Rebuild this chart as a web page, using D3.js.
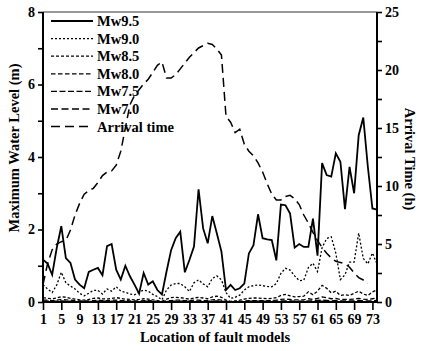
<!DOCTYPE html>
<html><head><meta charset="utf-8">
<script src="https://cdn.jsdelivr.net/npm/d3@7"></script>
<style>
html,body{margin:0;padding:0;background:#fff;}
svg text{font-family:"Liberation Serif","Times New Roman",serif;font-weight:bold;fill:#000;}
</style></head>
<body><svg id="c" width="422" height="351"></svg>
<script>
const locations = d3.range(1, 75);
const mw95 = [1.17,1.06,0.75,1.49,2.09,1.21,1.08,0.62,0.48,0.38,0.83,0.89,0.94,0.74,1.54,1.6,0.89,0.62,1.0,0.71,0.48,0.23,0.8,0.48,0.57,0.33,0.21,0.84,1.43,1.76,1.94,0.82,1.16,1.53,3.11,2.03,1.62,2.37,1.89,1.39,0.33,0.47,0.33,0.38,0.51,1.34,1.57,2.42,1.76,1.73,1.71,1.15,2.69,2.67,2.44,1.5,1.6,1.52,1.52,2.3,1.28,3.83,3.5,3.46,4.1,3.87,2.56,3.73,3.0,4.6,5.09,3.73,2.58,2.55];
const mw90 = [0.48,0.36,0.26,0.47,0.82,0.53,0.44,0.36,0.24,0.17,0.24,0.32,0.32,0.22,0.36,0.3,0.42,0.3,0.27,0.22,0.2,0.27,0.33,0.3,0.21,0.15,0.06,0.33,0.47,0.51,0.51,0.42,0.29,0.53,0.61,0.5,0.42,0.65,0.72,0.61,0.26,0.1,0.13,0.19,0.33,0.42,0.45,0.47,0.45,0.43,0.42,0.51,0.79,0.93,0.88,0.72,0.59,0.6,0.95,1.07,0.84,1.5,1.75,1.8,1.35,0.62,0.75,1.1,1.1,1.9,1.2,1.05,1.35,1.05];
const mw85 = [0.12,0.1,0.09,0.11,0.15,0.13,0.1,0.08,0.06,0.05,0.07,0.1,0.11,0.09,0.08,0.1,0.12,0.1,0.08,0.07,0.06,0.07,0.09,0.08,0.06,0.04,0.02,0.08,0.12,0.13,0.12,0.1,0.08,0.11,0.13,0.11,0.09,0.14,0.16,0.13,0.05,0.02,0.03,0.05,0.08,0.1,0.11,0.11,0.1,0.09,0.1,0.12,0.18,0.21,0.17,0.14,0.15,0.16,0.28,0.2,0.3,0.46,0.38,0.25,0.3,0.18,0.2,0.18,0.24,0.3,0.22,0.18,0.28,0.33];
const mw80 = [0.05,0.05,0.04,0.05,0.07,0.06,0.05,0.04,0.03,0.03,0.03,0.04,0.05,0.04,0.04,0.05,0.05,0.04,0.04,0.03,0.03,0.03,0.04,0.04,0.03,0.02,0.01,0.03,0.04,0.05,0.05,0.04,0.04,0.05,0.05,0.04,0.04,0.06,0.07,0.05,0.02,0.01,0.01,0.02,0.03,0.04,0.04,0.04,0.04,0.04,0.04,0.05,0.07,0.08,0.07,0.06,0.06,0.06,0.09,0.07,0.1,0.14,0.12,0.09,0.1,0.07,0.07,0.07,0.08,0.1,0.08,0.07,0.09,0.11];
const mw75 = [0.02,0.02,0.02,0.02,0.03,0.02,0.02,0.02,0.01,0.01,0.01,0.02,0.02,0.02,0.02,0.02,0.02,0.02,0.02,0.01,0.01,0.01,0.02,0.02,0.01,0.01,0.0,0.01,0.02,0.02,0.02,0.02,0.02,0.02,0.02,0.02,0.02,0.02,0.03,0.02,0.01,0.0,0.0,0.01,0.01,0.02,0.02,0.02,0.02,0.02,0.02,0.02,0.03,0.03,0.03,0.02,0.02,0.02,0.03,0.03,0.04,0.05,0.04,0.03,0.04,0.03,0.03,0.03,0.03,0.04,0.03,0.03,0.03,0.04];
const mw70 = [0.01,0.01,0.01,0.01,0.01,0.01,0.01,0.01,0.0,0.0,0.0,0.01,0.01,0.01,0.01,0.01,0.01,0.01,0.01,0.0,0.0,0.0,0.01,0.01,0.0,0.0,0.0,0.0,0.01,0.01,0.01,0.01,0.01,0.01,0.01,0.01,0.01,0.01,0.01,0.01,0.0,0.0,0.0,0.0,0.0,0.01,0.01,0.01,0.01,0.01,0.01,0.01,0.01,0.01,0.01,0.01,0.01,0.01,0.01,0.01,0.01,0.02,0.02,0.01,0.01,0.01,0.01,0.01,0.01,0.01,0.01,0.01,0.01,0.01];
const arrival = [1.5,3.3,4.5,5.0,5.2,5.3,6.2,7.5,8.5,9.3,9.6,9.8,10.3,10.9,11.2,11.3,11.8,13.0,15.0,17.0,17.8,18.3,18.8,19.2,19.8,20.4,20.7,19.3,19.3,19.6,20.1,20.6,21.1,21.5,21.9,22.1,22.3,22.2,21.8,21.3,16.0,15.5,14.6,14.9,13.6,13.0,12.6,12.0,11.2,10.2,9.3,8.8,8.8,9.1,9.2,8.9,8.4,7.5,6.8,6.0,5.3,4.7,4.2,3.8,3.5,3.4,3.3,3.0,2.5,2.1,1.9,1.6];
const seriesNames = ["Mw9.5","Mw9.0","Mw8.5","Mw8.0","Mw7.5","Mw7.0","Arrival time"];
const xTicks = d3.range(1, 74, 4);
const yLeftTicks = [0,2,4,6,8];
const yRightTicks = [0,5,10,15,20,25];

const svg = d3.select("#c");
const x = d3.scaleLinear().domain([1,74]).range([43,377]);
const yL = d3.scaleLinear().domain([0,8]).range([302,12]);
const yR = d3.scaleLinear().domain([0,25]).range([302,12]);

const styles = [
  {w:1.8, dash:null},
  {w:1.3, dash:"2,2"},
  {w:1.3, dash:"3,2"},
  {w:1.3, dash:"4.5,2.5"},
  {w:1.4, dash:"6,2.5"},
  {w:1.4, dash:"7,3.5"},
  {w:1.5, dash:"9,5"}
];
const data = [mw95,mw90,mw85,mw80,mw75,mw70,arrival];

// frame top line
svg.append("line").attr("x1",43).attr("x2",377).attr("y1",12).attr("y2",12)
  .attr("stroke","#333").attr("stroke-width",1);

data.forEach((vals,k)=>{
  const yS = k===6 ? yR : yL;
  const line = d3.line().x((d,i)=>x(locations[i])).y(d=>yS(d));
  svg.append("path").datum(vals).attr("d",line).attr("fill","none")
    .attr("stroke","#000").attr("stroke-width",styles[k].w)
    .attr("stroke-dasharray",styles[k].dash);
});

// axes
const xAxis = d3.axisBottom(x).tickValues(xTicks).tickSize(8).tickPadding(4).tickFormat(d3.format("d"));
const gx = svg.append("g").attr("transform","translate(0,302)").call(xAxis);
const yAxisL = d3.axisLeft(yL).tickValues(d3.range(0,9,1)).tickSize(5).tickPadding(3)
  .tickFormat(d=> yLeftTicks.includes(d) ? d : "");
const gyl = svg.append("g").attr("transform","translate(43,0)").call(yAxisL);
const yAxisR = d3.axisRight(yR).tickValues(d3.range(0,26,2.5)).tickSize(5).tickPadding(3)
  .tickFormat(d=> yRightTicks.includes(d) ? d : "");
const gyr = svg.append("g").attr("transform","translate(377,0)").call(yAxisR);
[gx,gyl,gyr].forEach(g=>{
  g.select(".domain").attr("stroke","#000").attr("stroke-width",2);
  g.selectAll(".tick line").attr("stroke","#000").attr("stroke-width",1.6);
  g.selectAll("text").style("font-size","14px").attr("fill","#000");
});
gx.select(".domain").attr("d","M43,0H377");
gyl.select(".domain").attr("d","M0,302V12");
gyr.select(".domain").attr("d","M0,302V12");

// axis titles
svg.append("text").attr("x",215).attr("y",342).attr("text-anchor","middle")
  .style("font-size","14.5px").text("Location of fault models");
svg.append("text").attr("transform","translate(19,148) rotate(-90)").attr("text-anchor","middle")
  .style("font-size","14.5px").text("Maximum Water Level (m)");
svg.append("text").attr("transform","translate(405,159) rotate(90)").attr("text-anchor","middle")
  .style("font-size","14.5px").text("Arrival Time (h)");

// legend
seriesNames.forEach((name,k)=>{
  const yy = 21 + k*17.6;
  svg.append("line").attr("x1",51).attr("x2",93).attr("y1",yy).attr("y2",yy)
    .attr("stroke","#000").attr("stroke-width",styles[k].w)
    .attr("stroke-dasharray",styles[k].dash);
  svg.append("text").attr("x",97).attr("y",yy+5).style("font-size","14.5px").text(name);
});
</script></body></html>
